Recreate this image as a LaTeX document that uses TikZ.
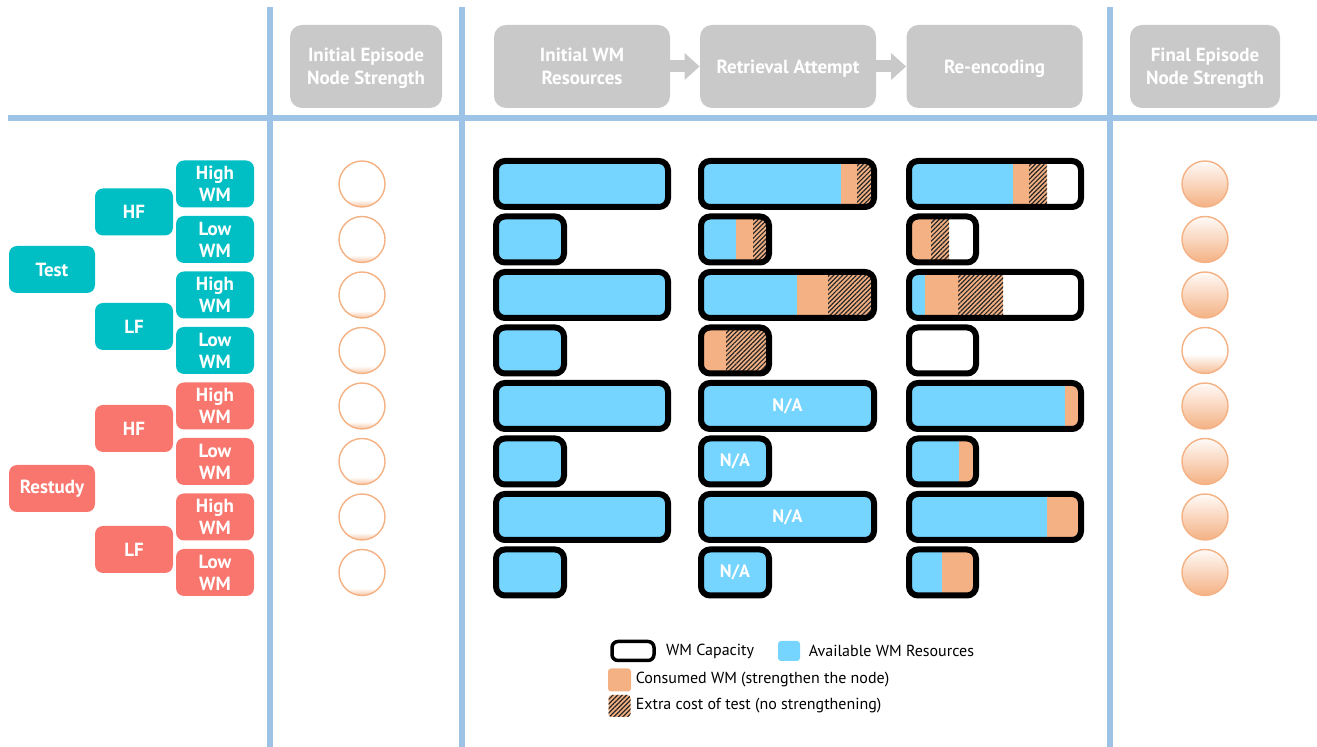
\documentclass[tikz,border=0pt]{standalone}
\usepackage{fontspec}
\setmainfont{PT Sans}
\usetikzlibrary{arrows.meta,patterns.meta,positioning}

\definecolor{gridblue}{HTML}{9DC3E6}
\definecolor{hdrgray}{HTML}{C9C9C9}
\definecolor{testteal}{HTML}{00BFC4}
\definecolor{restudyred}{HTML}{F8766D}
\definecolor{availres}{HTML}{76D5FF}
\definecolor{consumed}{HTML}{F4B183}

% node strength shadings (bottom to top)
\pgfdeclareverticalshading{weaknode}{100bp}{color(0bp)=(consumed); color(25bp)=(consumed!75); color(33bp)=(white); color(100bp)=(white)}
\pgfdeclareverticalshading{halfnode}{100bp}{color(0bp)=(consumed); color(25bp)=(consumed!85); color(46bp)=(white); color(100bp)=(white)}
\pgfdeclareverticalshading{strongnode}{100bp}{color(0bp)=(consumed); color(25bp)=(consumed); color(75bp)=(consumed!6); color(100bp)=(consumed!6)}

% WM bar: left, right, centre y, end of available, end of consumed, end of extra cost
\newcommand{\wmbar}[6]{%
  \begin{scope}
    \clip[rounded corners=3pt] (#1+5,#3-21) rectangle (#2-5,#3+21);
    \fill[availres] (#1,#3-21) rectangle (#4,#3+21);
    \fill[consumed] (#4,#3-21) rectangle (#6,#3+21);
    \fill[pattern={Lines[angle=45,distance=1.6pt,line width=0.6pt]},pattern color=black!85] (#5,#3-21) rectangle (#6,#3+21);
  \end{scope}
  \draw[wmcap] (#1+3,#3-23) rectangle (#2-3,#3+23);}

\begin{document}
\begin{tikzpicture}[x=0.5pt,y=-0.5pt,
  hdr/.style={fill=hdrgray,rounded corners=6pt,text=white,align=center,inner sep=0pt,text depth=0pt,minimum height=41.5pt,font=\bfseries\fontsize{9.5}{11.5}\selectfont},
  grp/.style={text=white,rounded corners=4pt,align=center,inner sep=0pt,minimum width=39pt,minimum height=23.5pt,font=\bfseries\fontsize{9.5}{11}\selectfont},
  testgrp/.style={grp,fill=testteal},
  restgrp/.style={grp,fill=restudyred},
  epnode/.style={circle,draw=consumed,line width=0.7pt,minimum size=23pt,inner sep=0pt,shade,shading=#1},
  steparrow/.style={draw=hdrgray,line width=6pt,-{Triangle[length=7.5pt,width=13pt]}},
  gridline/.style={draw=gridblue,line width=3pt},
  wmcap/.style={draw=black,line width=3pt,rounded corners=4.5pt},
  natext/.style={text=white,font=\bfseries\fontsize{9}{11}\selectfont},
  legtext/.style={font=\fontsize{8}{10}\selectfont,inner sep=0pt}
]
\useasboundingbox (0,0) rectangle (1317,747);

% grid
\draw[gridline] (8,118) -- (1317,118);
\foreach \x in {270,462,1110}
  \draw[gridline] (\x,7) -- (\x,747);

% column headers
\node[hdr,minimum width=76pt] (initnode) at (366,66.5) {Initial Episode\\Node Strength};
\node[hdr,minimum width=88pt] (initwm) at (582,66.5) {Initial WM\\Resources};
\node[hdr,minimum width=88pt] (retrieval) at (788,66.5) {Retrieval Attempt};
\node[hdr,minimum width=88pt] (reencode) at (994.5,66.5) {Re-encoding};
\node[hdr,minimum width=75pt] (finalnode) at (1205,66.5) {Final Episode\\Node Strength};
\draw[steparrow] (initwm) -- (retrieval);
\draw[steparrow] (retrieval) -- (reencode);

% conditions
\node[testgrp,minimum width=43pt] (test) at (52,269.5) {Test};
\node[testgrp] (testHF) at (134,212) {HF};
\node[testgrp] (testLF) at (134,326.5) {LF};
\node[restgrp,minimum width=43pt] (restudy) at (52,488.5) {Restudy};
\node[restgrp] (restHF) at (134,428.5) {HF};
\node[restgrp] (restLF) at (134,549.5) {LF};
\foreach \i/\lvl/\grp in {1/High/testgrp,2/Low/testgrp,3/High/testgrp,4/Low/testgrp,
    5/High/restgrp,6/Low/restgrp,7/High/restgrp,8/Low/restgrp} {
  \pgfmathsetmacro\y{184+55.5*(\i-1)}
  \node[\grp] (wm\i) at (215,\y) {\lvl\\WM};
}

% episode nodes and initial WM
\foreach \i/\sh/\xr in {1/strongnode/671,2/strongnode/567,3/strongnode/671,4/halfnode/567,
    5/strongnode/671,6/strongnode/567,7/strongnode/671,8/strongnode/567} {
  \pgfmathsetmacro\y{184+55.5*(\i-1)}
  \node[epnode=weaknode] (init\i) at (362,\y) {};
  \node[epnode=\sh] (final\i) at (1205,\y) {};
  \wmbar{493}{\xr}{\y}{\xr}{\xr}{\xr}
}

% retrieval attempt
\wmbar{698}{877}{184}{841}{857}{877}
\wmbar{698}{772}{239.5}{736}{753}{772}
\wmbar{698}{877}{295}{797}{828}{877}
\wmbar{698}{772}{350.5}{698}{726}{772}
\wmbar{698}{877}{406}{877}{877}{877}
\wmbar{698}{772}{461.5}{772}{772}{772}
\wmbar{698}{877}{517}{877}{877}{877}
\wmbar{698}{772}{572.5}{772}{772}{772}
\node[natext] (na5) at (787.5,406) {N/A};
\node[natext] (na6) at (735,461.5) {N/A};
\node[natext] (na7) at (787.5,517) {N/A};
\node[natext] (na8) at (735,572.5) {N/A};

% re-encoding
\wmbar{906}{1084}{184}{1013}{1029}{1047}
\wmbar{906}{979}{239.5}{906}{931}{949}
\wmbar{906}{1084}{295}{925}{958}{1003}
\wmbar{906}{979}{350.5}{906}{906}{906}
\wmbar{906}{1084}{406}{1065}{1084}{1084}
\wmbar{906}{979}{461.5}{959}{979}{979}
\wmbar{906}{1084}{517}{1047}{1084}{1084}
\wmbar{906}{979}{572.5}{942}{979}{979}

% legend
\node[wmcap,line width=1.75pt,rounded corners=3pt,minimum width=21pt,minimum height=9.5pt,inner sep=0pt] (capkey) at (633,651) {};
\node[legtext,right=5pt of capkey] (captext) {WM Capacity};
\node[fill=availres,rounded corners=1.5pt,minimum width=11pt,minimum height=10pt,inner sep=0pt] (availkey) at (789,651) {};
\node[legtext,right=4pt of availkey] (availtext) {Available WM Resources};
\node[fill=consumed,rounded corners=1.5pt,minimum size=11.5pt,inner sep=0pt] (conskey) at (619.5,680) {};
\node[legtext,right=2pt of conskey] (constext) {Consumed WM (strengthen the node)};
\node[preaction={fill=consumed},pattern={Lines[angle=45,distance=1.6pt,line width=0.6pt]},pattern color=black!85,rounded corners=1.5pt,minimum size=11pt,inner sep=0pt] (extrakey) at (619.5,706) {};
\node[legtext,right=2.25pt of extrakey] (extratext) {Extra cost of test (no strengthening)};
\end{tikzpicture}
\end{document}
